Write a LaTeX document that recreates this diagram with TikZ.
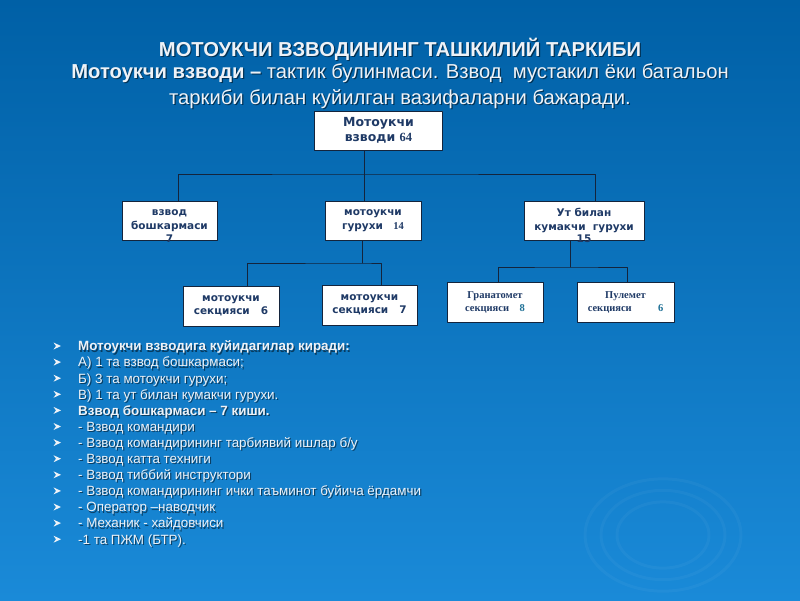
\documentclass[tikz,border=0pt]{standalone}
\usepackage{fontspec}
\setmainfont{Liberation Sans}
\newfontfamily\boxfont{DejaVu Sans}
\newfontfamily\numfont{Liberation Serif}
\definecolor{bgtop}{RGB}{0,96,166}
\definecolor{bgbot}{RGB}{26,138,216}
\definecolor{boxtext}{RGB}{31,58,102}
\definecolor{numteal}{RGB}{30,112,150}
\definecolor{pale}{RGB}{238,242,247}
\definecolor{linkcol}{RGB}{20,36,60}
\tikzset{
  unit/.style={draw=linkcol,fill=white,line width=0.8pt,inner sep=0pt,align=center,
    text=boxtext,font=\boxfont\bfseries\fontsize{10.5}{13.5}\selectfont},
  serifunit/.style={unit,font=\numfont\bfseries\fontsize{10.5}{13}\selectfont},
  numlbl/.style={inner sep=0pt,text=boxtext,font=\boxfont\bfseries\fontsize{10.5}{13}\selectfont},
  link/.style={draw=linkcol,line width=0.8pt},
  lbl/.style={text=pale,inner sep=0pt},
  lblshadow/.style={text=black,opacity=0.5,inner sep=0pt},
}
\newcommand{\shadowed}[4]{%
  \node[lblshadow,#3] (#1s) at ([shift={(1.2,1.2)}]#2) {#4};
  \node[lbl,#3] (#1) at (#2) {#4};}
\begin{document}
\begin{tikzpicture}[x=1pt,y=-1pt,line cap=round,line join=round]
  \useasboundingbox (0,0) rectangle (800,600);
  \shade[top color=bgtop,bottom color=bgbot] (0,0) rectangle (800,600);
  \foreach \r in {46,62,78}
    \draw[white,opacity=0.035,line width=3pt] (663,535) ellipse[x radius=\r,y radius=0.72*\r];

  \shadowed{title}{400,49}{font=\bfseries\fontsize{20.2}{22}\selectfont}{МОТОУКЧИ ВЗВОДИНИНГ ТАШКИЛИЙ ТАРКИБИ}
  \shadowed{introa}{400,73}{font=\fontsize{20.2}{22}\selectfont}{\textbf{Мотоукчи взводи –} тактик булинмаси. Взвод\ \ мустакил ёки батальон}
  \shadowed{introb}{400,99}{font=\fontsize{20.2}{22}\selectfont}{таркиби билан куйилган вазифаларни бажаради.}

  \node[unit,minimum width=128pt,minimum height=39pt,font=\boxfont\bfseries\fontsize{12.5}{15}\selectfont] (plat) at (378.5,130.5) {Мотоукчи\\взводи {\numfont 64}};
  \node[unit,minimum width=95pt,minimum height=39pt] (b2) at (169.5,220.5) {взвод\\бошкармаси};
  \node[numlbl] (b2n) at ([yshift=2pt]b2.south) {7};
  \node[unit,minimum width=96pt,minimum height=39pt] (b3) at (373,220.5) {мотоукчи\\гурухи\quad{\numfont 14}};
  \node[unit,minimum width=120pt,minimum height=39pt] (b4) at (584,220.5) {Ут билан\\кумакчи\ \ гурухи};
  \node[numlbl] (b4n) at ([yshift=2pt]b4.south) {15};
  \node[unit,minimum width=96pt,minimum height=40pt] (b5) at (231,306) {мотоукчи\\секцияси\ \ \ 6};
  \node[unit,minimum width=95pt,minimum height=40pt] (b6) at (369.5,305) {мотоукчи\\секцияси\ \ \ 7};
  \node[serifunit,minimum width=96pt,minimum height=40pt] (b7) at (495,302) {Гранатомет\\секцияси\quad{\color{numteal}8}};
  \node[serifunit,minimum width=97pt,minimum height=40pt] (b8) at (625.5,302) {Пулемет\\секцияси\qquad\ \ {\color{numteal}6}};

  \coordinate (busA) at (364,174);
  \draw[link] (plat.south -| busA) -- (busA);
  \draw[link] ([xshift=8.5pt]b2.north) |- (busA) -| ([xshift=11pt]b4.north);
  \draw[link] (busA) -- (b3.north -| busA);
  \coordinate (busB) at (362,263);
  \draw[link] (b3.south -| busB) -- (busB);
  \draw[link] ([xshift=16pt]b5.north) |- (busB) -| ([xshift=11.5pt]b6.north);
  \coordinate (busC) at (570,267);
  \draw[link] (b4.south -| busC) -- (busC);
  \draw[link] ([xshift=3pt]b7.north) |- (busC) -| ([xshift=1.5pt]b8.north);

  \foreach \itemtext [count=\i] in {
      {\textbf{Мотоукчи взводига куйидагилар киради:}},
      {А) 1 та взвод бошкармаси;},
      {Б) 3 та мотоукчи гурухи;},
      {В) 1 та ут билан кумакчи гурухи.},
      {\textbf{Взвод бошкармаси – 7 киши.}},
      {- Взвод командири},
      {- Взвод командирининг тарбиявий ишлар б/у},
      {- Взвод катта техниги},
      {- Взвод тиббий инструктори},
      {- Взвод командирининг ички таъминот буйича ёрдамчи},
      {- Оператор –наводчик},
      {- Механик - хайдовчиси},
      {-1 та ПЖМ (БТР).}} {
    \pgfmathsetmacro\rowy{346+16.1*(\i-1)}
    \fill[pale] (61,\rowy) -- (53.5,\rowy-3.5) -- (56,\rowy) -- (53.5,\rowy+3.5) -- cycle;
    \shadowed{item\i}{78,\rowy+4.8}{anchor=base west,font=\fontsize{13.4}{16}\selectfont}{\itemtext}
  }
\end{tikzpicture}
\end{document}
